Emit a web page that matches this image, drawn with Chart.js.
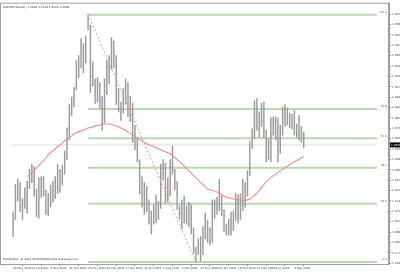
<!DOCTYPE html>
<html>
<head>
<meta charset="utf-8">
<script src="https://cdn.jsdelivr.net/npm/chart.js@4.4.0/dist/chart.umd.min.js"></script>
<style>
  html, body { margin: 0; padding: 0; background: #fff; }
  #wrap { width: 400px; height: 274px; }
</style>
</head>
<body>
<div id="wrap"><canvas id="fxChart" width="400" height="274"></canvas></div>
<script>
// EURUSD weekly, 16 May 2004 .. 1 Oct 2006 (one entry per week)
let dateLabels = ['16 May 2004', '11 Jul 2004', '5 Sep 2004', '31 Oct 2004', '26 Dec 2004', '20 Feb 2005',
  '17 Apr 2005', '12 Jun 2005', '7 Aug 2005', '2 Oct 2005', '27 Nov 2005', '22 Jan 2006',
  '19 Mar 2006', '14 May 2006', '9 Jul 2006', '3 Sep 2006'];

let highs = [
  // 2004
  1.2050, 1.2275, 1.2320, 1.2290, 1.2160, 1.2250, 1.2300, 1.2400, 1.2440, 1.2420, 1.2240,
  1.2330, 1.2340, 1.2340, 1.2230, 1.2200, 1.2270, 1.2300, 1.2340, 1.2440, 1.2400, 1.2430,
  1.2550, 1.2740, 1.2930, 1.2990, 1.3070, 1.3290, 1.3330, 1.3470, 1.3430, 1.3490, 1.3666,
  // 2005
  1.3580, 1.3280, 1.3140, 1.3150, 1.3110, 1.3000, 1.3140, 1.3290, 1.3330, 1.3480, 1.3450,
  1.3330, 1.3060, 1.2950, 1.3060, 1.3140, 1.3110, 1.3000, 1.2940, 1.2760, 1.2660, 1.2480,
  1.2340, 1.2290, 1.2260, 1.2150, 1.2060, 1.2110, 1.2190, 1.2140, 1.2440, 1.2480, 1.2450,
  1.2330, 1.2480, 1.2590, 1.2400, 1.2300, 1.2100, 1.2150, 1.2180, 1.2100, 1.2130, 1.2110,
  1.1920, 1.1760, 1.1830, 1.1850, 1.1930, 1.2040, 1.1980, 1.1920,
  // 2006
  1.2150, 1.2150, 1.2170, 1.2320, 1.2180, 1.2070, 1.1950, 1.1990, 1.2050, 1.2060, 1.2200,
  1.2190, 1.2200, 1.2320, 1.2290, 1.2390, 1.2630, 1.2730, 1.2960, 1.2979, 1.2870, 1.2940,
  1.2950, 1.2720, 1.2650, 1.2820, 1.2830, 1.2830, 1.2820, 1.2760, 1.2910, 1.2930, 1.2900,
  1.2860, 1.2850, 1.2880, 1.2770, 1.2840, 1.2750, 1.2704
];

let lows = [
  // 2004
  1.1850, 1.1990, 1.2140, 1.2050, 1.1990, 1.2080, 1.2040, 1.2240, 1.2290, 1.2180, 1.2010,
  1.2000, 1.2170, 1.2180, 1.2030, 1.2020, 1.2090, 1.2130, 1.2160, 1.2200, 1.2210, 1.2270,
  1.2360, 1.2480, 1.2640, 1.2840, 1.2910, 1.3050, 1.3150, 1.3230, 1.3190, 1.3270, 1.3540,
  // 2005
  1.3030, 1.3080, 1.2940, 1.2950, 1.2900, 1.2720, 1.2780, 1.3010, 1.3100, 1.3220, 1.3230,
  1.2930, 1.2870, 1.2800, 1.2860, 1.2930, 1.2830, 1.2790, 1.2620, 1.2560, 1.2460, 1.2200,
  1.2090, 1.2030, 1.2050, 1.1950, 1.1870, 1.1950, 1.1960, 1.1990, 1.2080, 1.2310, 1.2120,
  1.2130, 1.2180, 1.2360, 1.2230, 1.2070, 1.1990, 1.1910, 1.1960, 1.1950, 1.1930, 1.1870,
  1.1710, 1.1640, 1.1700, 1.1650, 1.1700, 1.1830, 1.1800, 1.1780,
  // 2006
  1.1800, 1.2000, 1.2030, 1.2060, 1.2020, 1.1890, 1.1860, 1.1860, 1.1860, 1.1900, 1.1980,
  1.1960, 1.1990, 1.2060, 1.2090, 1.2180, 1.2350, 1.2570, 1.2650, 1.2720, 1.2660, 1.2750,
  1.2660, 1.2460, 1.2480, 1.2460, 1.2680, 1.2640, 1.2460, 1.2530, 1.2680, 1.2750, 1.2760,
  1.2740, 1.2730, 1.2680, 1.2660, 1.2640, 1.2620, 1.2574
];

// moving average (starts at week 6)
let maValues = [
  null, null, null, null, null, null,
  1.2340, 1.2356, 1.2372, 1.2389, 1.2413, 1.2429, 1.2454, 1.2470, 1.2494, 1.2519,
  1.2535, 1.2551, 1.2568, 1.2584, 1.2600, 1.2616, 1.2633, 1.2649, 1.2657, 1.2673,
  1.2690, 1.2698, 1.2706, 1.2714, 1.2722, 1.2730, 1.2738, 1.2743, 1.2747, 1.2755,
  1.2759, 1.2763, 1.2767, 1.2771, 1.2771, 1.2771, 1.2767, 1.2763, 1.2755, 1.2747,
  1.2738, 1.2730, 1.2718, 1.2706, 1.2694, 1.2681, 1.2669, 1.2657, 1.2645, 1.2633,
  1.2620, 1.2608, 1.2600, 1.2592, 1.2584, 1.2576, 1.2568, 1.2559, 1.2551, 1.2543,
  1.2535, 1.2527, 1.2511, 1.2494, 1.2478, 1.2462, 1.2446, 1.2425, 1.2405, 1.2389,
  1.2368, 1.2348, 1.2332, 1.2311, 1.2291, 1.2275, 1.2254, 1.2238, 1.2230, 1.2226,
  1.2222, 1.2214, 1.2205, 1.2193, 1.2181, 1.2169, 1.2165, 1.2161, 1.2157, 1.2153,
  1.2149, 1.2149, 1.2145, 1.2145, 1.2149, 1.2153, 1.2169, 1.2185, 1.2205, 1.2226,
  1.2250, 1.2275, 1.2299, 1.2315, 1.2332, 1.2348, 1.2360, 1.2372, 1.2389, 1.2401,
  1.2413, 1.2425, 1.2437, 1.2450, 1.2462, 1.2470, 1.2482, 1.2494, 1.2502
];

let fibNames = ['100.0', '61.8', '50.0', '38.2', '23.6', '0.0'];
let fibLevels = [1.3666, 1.2894, 1.2653, 1.2413, 1.2118, 1.1640];
let fibStart = 32;    // week of the high
let fibEnd = 78;      // week of the low

let priceTicks = [1.3670, 1.3585, 1.3500, 1.3415, 1.3330, 1.3245, 1.3160, 1.3075, 1.2990,
  1.2905, 1.2820, 1.2735, 1.2650, 1.2565, 1.2480, 1.2395, 1.2310, 1.2225, 1.2140,
  1.2055, 1.1970, 1.1885, 1.1800, 1.1715, 1.1630];

let currentPrice = 1.2599;
let headerText = 'EURUSD,Weekly  1.2662 1.2704 1.2574 1.2599';
let footerText = 'MetaTrader, \u00a9 2001-2006 MetaQuotes Software Corp.';

const X_MIN = -0.4, X_MAX = 155.2;
const tinyFont = { family: 'DejaVu Sans', size: 2.8 };

let datasets = [];

// bid line
datasets.push({
  type: 'line',
  data: [{ x: X_MIN, y: currentPrice }, { x: X_MAX, y: currentPrice }],
  borderColor: '#dcdcdc', borderWidth: 1, pointRadius: 0, order: 9
});

// fibonacci levels
fibLevels.forEach(lv => {
  datasets.push({
    type: 'line',
    data: [{ x: fibStart, y: lv }, { x: X_MAX, y: lv }],
    borderColor: '#b9d8b2', borderWidth: 2, pointRadius: 0, order: 8
  });
});

// fib base line
datasets.push({
  type: 'line',
  data: [{ x: fibStart, y: fibLevels[0] }, { x: fibEnd, y: fibLevels[fibLevels.length - 1] }],
  borderColor: '#f29090', borderWidth: 1, borderDash: [2, 2], pointRadius: 0, order: 2
});

// high-low bars
datasets.push({
  type: 'bar',
  data: highs.map((h, i) => ({ x: i, y: [lows[i], h] })),
  backgroundColor: '#9a9a9a', barThickness: 0.8, order: 5
});

// moving average
datasets.push({
  type: 'line',
  data: maValues.map((v, i) => ({ x: i, y: v })),
  borderColor: '#f28c8c', borderWidth: 1.1, pointRadius: 0, spanGaps: false, order: 1
});

const extras = {
  id: 'extras',
  afterDraw(chart) {
    const { ctx, chartArea: a, scales } = chart;
    ctx.save();
    // frame
    ctx.strokeStyle = '#a0a0a0';
    ctx.lineWidth = 1;
    ctx.strokeRect(a.left + 0.5, a.top + 0.5, a.right - a.left - 1, a.bottom - a.top);
    // fib labels
    ctx.font = '2.8px "DejaVu Sans"';
    ctx.fillStyle = '#666';
    ctx.textAlign = 'right';
    ctx.textBaseline = 'bottom';
    fibLevels.forEach((lv, i) => {
      ctx.fillText(fibNames[i], a.right - 2, scales.y.getPixelForValue(lv) - 1);
    });
    // header and footer
    ctx.textAlign = 'left';
    ctx.textBaseline = 'top';
    ctx.fillStyle = '#333';
    ctx.fillText(headerText, a.left + 3, a.top + 3);
    ctx.textBaseline = 'bottom';
    ctx.fillText(footerText, a.left + 3, a.bottom - 3);
    // current price tag
    const py = scales.y.getPixelForValue(currentPrice);
    ctx.fillStyle = '#000';
    ctx.fillRect(a.right + 1, py - 2.5, 400 - a.right - 1, 5);
    ctx.fillStyle = '#fff';
    ctx.textBaseline = 'middle';
    ctx.fillText(currentPrice.toFixed(4), a.right + 2, py);
    ctx.restore();
  }
};

new Chart(document.getElementById('fxChart'), {
  data: { datasets },
  options: {
    responsive: false,
    animation: false,
    devicePixelRatio: 1,
    layout: { padding: { top: 1, left: 0, right: 0, bottom: 0 } },
    plugins: { legend: { display: false }, tooltip: { enabled: false } },
    scales: {
      x: {
        type: 'linear',
        min: X_MIN, max: X_MAX,
        afterBuildTicks: s => { s.ticks = dateLabels.map((d, i) => ({ value: i * 8 })); },
        afterFit: s => { s.height = 10; },
        ticks: {
          callback: (v, i) => dateLabels[i],
          align: 'start', maxRotation: 0, autoSkip: false,
          font: tinyFont, color: '#444', padding: 1
        },
        grid: { display: true, drawOnChartArea: false, tickLength: 2, color: '#888' },
        border: { color: '#a0a0a0' }
      },
      y: {
        position: 'right',
        min: 1.1624, max: 1.3764,
        afterBuildTicks: s => { s.ticks = priceTicks.map(v => ({ value: v })); },
        afterFit: s => { s.width = 11; },
        ticks: {
          callback: v => v.toFixed(4),
          font: tinyFont, color: '#444', padding: 1
        },
        grid: { display: true, drawOnChartArea: false, tickLength: 2, color: '#888' },
        border: { color: '#a0a0a0' }
      }
    }
  },
  plugins: [extras]
});
</script>
</body>
</html>
